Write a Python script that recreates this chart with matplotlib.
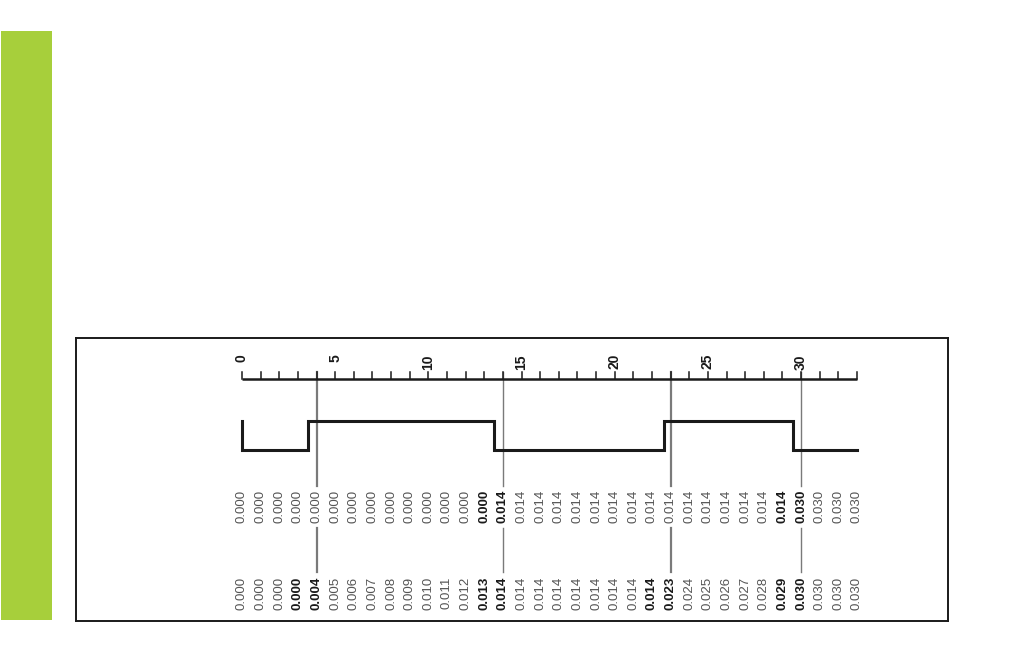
from matplotlib import pyplot as plt
from matplotlib.patches import Rectangle
import numpy as np

# ------------- data -------------
t_max = 33
tick_labels = [0, 5, 10, 15, 20, 25, 30]
edge_t = [0, 3.56, 13.54, 22.64, 29.58, 33]
edge_lvl = ["high", "low", "high", "low", "high", "low"]
marker_t = [4, 14, 23, 30]
marker_lw = [1.6, 1.0, 1.6, 1.0]

top_vals = [0.000] * 14 + [0.014] * 16 + [0.030] * 4
top_bold = [13, 14, 29, 30]
bot_vals = ([0.000] * 4 + [0.004, 0.005, 0.006, 0.007, 0.008, 0.009,
                           0.010, 0.011, 0.012, 0.013]
            + [0.014] * 9
            + [0.023, 0.024, 0.025, 0.026, 0.027, 0.028, 0.029]
            + [0.030] * 4)
bot_bold = [3, 4, 13, 14, 22, 23, 29, 30]


def main():
    fig = plt.figure(figsize=(10.12, 6.51), dpi=100)
    W, H = 1012, 651
    # green side bar
    fig.patches.append(Rectangle((1 / W, 1 - 620 / H), 51 / W, 589 / H,
                                 transform=fig.transFigure,
                                 facecolor="#a7cf3b", edgecolor="none"))
    # framed box = axes, y in layout units (top down)
    bx0, bx1, by0, by1 = 76, 948, 338, 621
    ax = fig.add_axes([bx0 / W, 1 - by1 / H, (bx1 - bx0) / W,
                       (by1 - by0) / H])
    px0, ppu = 242., 18.636
    ax.set_xlim((bx0 - px0) / ppu, (bx1 - px0) / ppu)
    ax.set_ylim(by1, by0)
    ax.set_xticks([])
    ax.set_yticks([])
    for s in ax.spines.values():
        s.set_linewidth(1.4)
        s.set_color("#1a1a1a")

    # ------------ time axis ---------------
    y_axis, y_tick = 379, 371.5
    ax.plot([0, t_max], [y_axis, y_axis], color="#1a1a1a", lw=1.8,
            solid_capstyle="butt")
    for t in range(t_max + 1):
        ax.plot([t, t], [y_axis, y_tick], color="#1a1a1a", lw=1.1)
    for t in tick_labels:
        ax.text(t, 354, str(t), rotation=90, ha="center", va="top",
                fontsize=10, fontweight="bold", family="Liberation Sans",
                color="#1a1a1a")

    # ------------ waveform ----------------
    lvl_y = {"high": 420.5, "low": 450}
    xs, ys = [], []
    for i in range(len(edge_t) - 1):
        xs += [edge_t[i], edge_t[i + 1]]
        ys += [lvl_y[edge_lvl[i + 1]]] * 2
    xs = [edge_t[0]] + xs
    ys = [lvl_y[edge_lvl[0]]] + ys
    ax.plot(xs, ys, color="#1a1a1a", lw=2.2, solid_joinstyle="miter")

    # ------------ marker lines ------------
    for t, lw in zip(marker_t, marker_lw):
        ax.plot([t, t], [y_tick, 486], color="#7a7a7a", lw=lw, zorder=0)
        ax.plot([t, t], [528, 572], color="#7a7a7a", lw=lw, zorder=0)

    # ------------ value columns -----------
    for vals, bold, yc in [(top_vals, top_bold, 506),
                           (bot_vals, bot_bold, 593)]:
        for i, v in enumerate(vals):
            isb = i in bold
            ax.text(i, yc, "%.3f" % v, rotation=90, ha="center",
                    va="center", fontsize=9.5,
                    fontweight="bold" if isb else "normal",
                    family="Liberation Sans",
                    color="#1a1a1a" if isb else "#555555")

    fig.savefig("out.png", dpi=100)
    plt.close(fig)


if __name__ == '__main__':
    main()
